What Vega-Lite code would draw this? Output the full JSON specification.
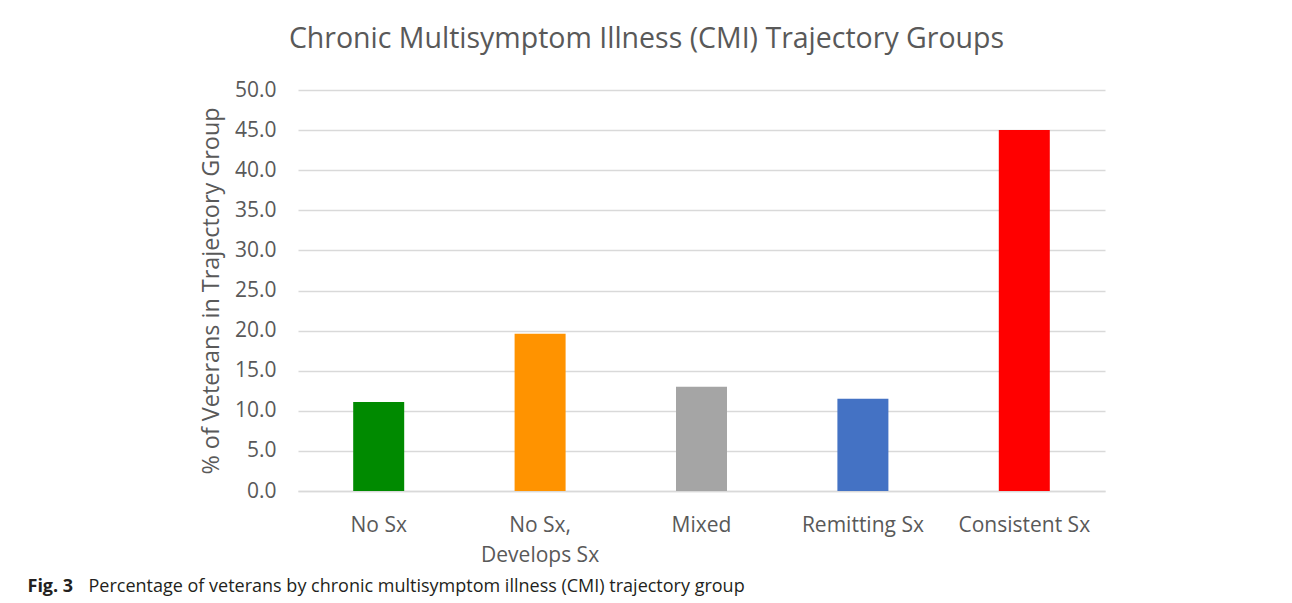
{
  "$schema": "https://vega.github.io/schema/vega-lite/v6.json",
  "width": 807,
  "height": 401,
  "padding": {"left": 27, "top": 24, "right": 10, "bottom": 5},
  "background": "white",
  "title": {
    "text": "Chronic Multisymptom Illness (CMI) Trajectory Groups",
    "font": "Open Sans",
    "fontSize": 28.5,
    "fontWeight": "normal",
    "color": "#595959",
    "anchor": "middle",
    "frame": "group",
    "dx": -55,
    "offset": 26
  },
  "data": {
    "values": [
      {"group": "No Sx", "pct": 11.1},
      {"group": "No Sx, Develops Sx", "pct": 19.6},
      {"group": "Mixed", "pct": 13.0},
      {"group": "Remitting Sx", "pct": 11.5},
      {"group": "Consistent Sx", "pct": 45.0}
    ]
  },
  "config": {
    "view": {"stroke": null},
    "font": "Open Sans"
  },
  "resolve": {"axis": {"x": "independent"}},
  "layer": [
    {
      "mark": {"type": "bar"},
      "encoding": {
        "x": {
          "field": "group",
          "type": "nominal",
          "sort": null,
          "scale": {"paddingInner": 0.684, "paddingOuter": 0.342},
          "axis": {
            "orient": "bottom",
            "labelAngle": 0,
            "labelFont": "Open Sans",
            "labelFontSize": 21,
            "labelColor": "#595959",
            "labelPadding": 23,
            "labelLineHeight": 30,
            "labelExpr": "datum.value == 'No Sx, Develops Sx' ? ['No Sx,', 'Develops Sx'] : datum.value",
            "ticks": false,
            "domainColor": "#d9d9d9",
            "domainWidth": 1.5,
            "grid": false,
            "title": "Percentage of veterans by chronic multisymptom illness (CMI) trajectory group",
            "titleFont": "Open Sans",
            "titleFontSize": 18,
            "titleFontWeight": "normal",
            "titleColor": "#231f20",
            "titleAnchor": "start",
            "titleAlign": "left",
            "titleBaseline": "alphabetic",
            "titleX": -210,
            "titleY": 100
          }
        },
        "y": {
          "field": "pct",
          "type": "quantitative",
          "scale": {"domain": [0, 50], "nice": false},
          "axis": {
            "values": [0, 5, 10, 15, 20, 25, 30, 35, 40, 45, 50],
            "format": ".1f",
            "labelFont": "Open Sans",
            "labelFontSize": 21,
            "labelColor": "#595959",
            "labelPadding": 22,
            "ticks": false,
            "domain": false,
            "gridColor": "#d9d9d9",
            "gridWidth": 1.5,
            "title": "% of Veterans in Trajectory Group",
            "titleFont": "Open Sans",
            "titleFontSize": 23.4,
            "titleFontWeight": "normal",
            "titleColor": "#595959",
            "titlePadding": 11
          }
        },
        "color": {
          "field": "group",
          "type": "nominal",
          "scale": {
            "domain": ["No Sx", "No Sx, Develops Sx", "Mixed", "Remitting Sx", "Consistent Sx"],
            "range": ["#008a00", "#ff9300", "#a5a5a5", "#4472c4", "#ff0000"]
          },
          "legend": null
        }
      }
    },
    {
      "mark": {"type": "rule", "opacity": 0},
      "encoding": {
        "x": {
          "field": "group",
          "type": "nominal",
          "sort": null,
          "axis": {
            "orient": "bottom",
            "labels": false,
            "ticks": false,
            "domain": false,
            "grid": false,
            "title": "Fig. 3",
            "titleFont": "Open Sans",
            "titleFontSize": 18,
            "titleFontWeight": "bold",
            "titleColor": "#231f20",
            "titleAnchor": "start",
            "titleAlign": "left",
            "titleBaseline": "alphabetic",
            "titleX": -271,
            "titleY": 100
          }
        }
      }
    }
  ]
}
